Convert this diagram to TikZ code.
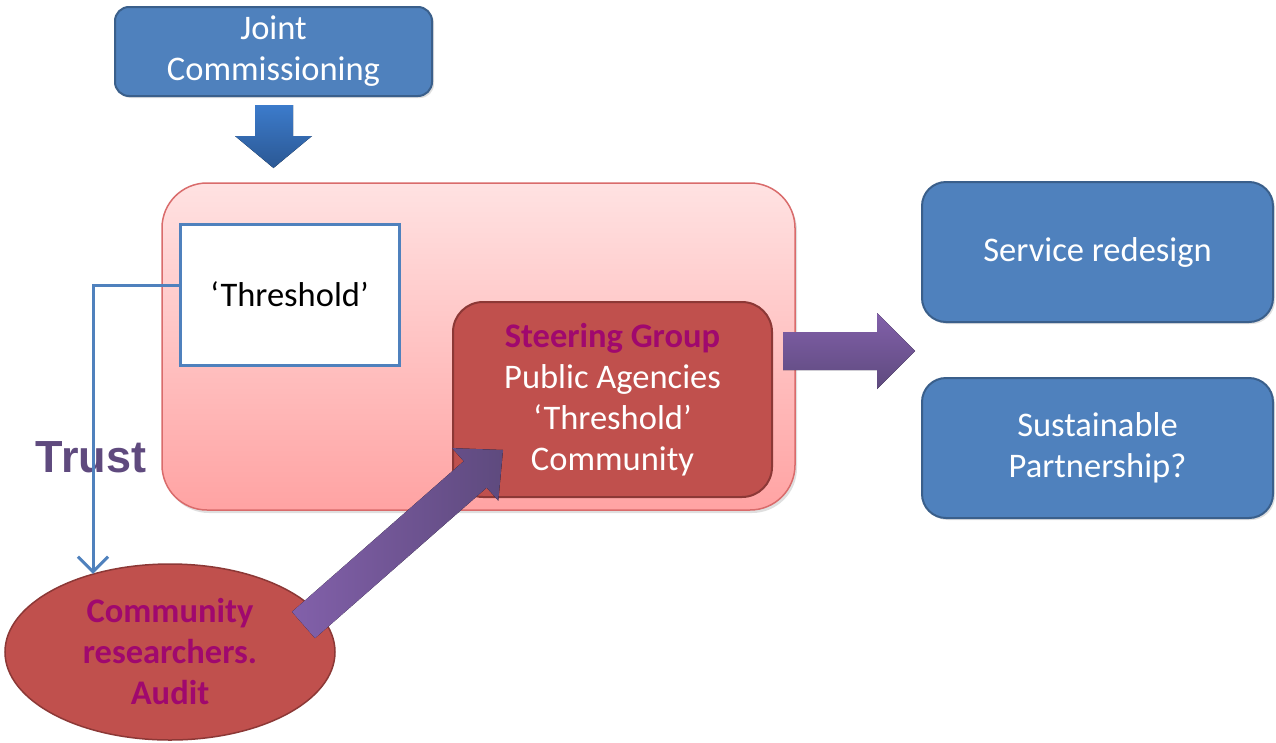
\documentclass[tikz,border=0pt]{standalone}
\usepackage{fontspec}
\setmainfont{Carlito}
\newfontfamily\arialfont{Liberation Sans}
\usetikzlibrary{arrows.meta,shadows,shapes.geometric}
\definecolor{boxblue}{HTML}{4F81BD}
\definecolor{boxblueline}{HTML}{3A5F8B}
\definecolor{pinktop}{HTML}{FFE2E2}
\definecolor{pinkbot}{HTML}{FFA3A3}
\definecolor{pinkline}{HTML}{D96B6B}
\definecolor{redfill}{HTML}{C0504D}
\definecolor{redline}{HTML}{8C3836}
\definecolor{magtext}{HTML}{A0086E}
\definecolor{trustcol}{HTML}{5F4A7E}
\definecolor{purplelight}{HTML}{8260AA}
\definecolor{purpledark}{HTML}{5E4A7E}
\definecolor{arrowbluetop}{HTML}{3C7BCB}
\definecolor{arrowbluebot}{HTML}{2B5894}
\tikzset{
  txt/.style={font=\fontsize{34.5}{41}\selectfont, align=center},
  bluebox/.style={txt, draw=boxblueline, line width=2pt, fill=boxblue, text=white, rounded corners=16pt, inner sep=0pt,
    drop shadow={opacity=0.25, shadow xshift=2pt, shadow yshift=-2pt}},
  pinkframe/.style={draw=pinkline, line width=1.5pt, top color=pinktop, bottom color=pinkbot, rounded corners=45pt, inner sep=0pt,
    drop shadow={opacity=0.25, shadow xshift=2pt, shadow yshift=-3pt}},
  whitebox/.style={txt, draw=boxblue, line width=3pt, fill=white, text=black, inner sep=0pt},
  redbox/.style={txt, draw=redline, line width=2pt, fill=redfill, text=white, rounded corners=30pt, inner sep=0pt},
  redoval/.style={txt, ellipse, draw=redline, line width=1.5pt, fill=redfill, text=magtext, font=\fontsize{34.5}{41}\selectfont\bfseries, inner sep=0pt},
  conn/.style={draw=boxblue, line width=3pt, -{Straight Barb[length=15pt,width=30pt,line width=3pt]}},
  blockpurple/.style={left color=purplelight, right color=purpledark, draw=none},
  blockpurplev/.style={top color=purplelight, bottom color=purpledark, draw=none},
}
\begin{document}
\begin{tikzpicture}[x=1pt,y=-1pt]
\fill[white] (0,0) rectangle (1276,742);
\useasboundingbox (0,0) rectangle (1276,742);

% top box and down arrow
\node[bluebox, minimum width=317pt, minimum height=89pt, rounded corners=14pt] (joint) at (273.5,51.5) {Joint\\Commissioning};
\fill[top color=arrowbluetop, bottom color=arrowbluebot] (255,105) -- (293,105) -- (293,136) -- (312,136) -- (273.5,168) -- (235,136) -- (255,136) -- cycle;

% frame
\node[pinkframe, minimum width=633pt, minimum height=327pt] (frame) at (478.5,346.5) {};

% Threshold box
\node[whitebox, minimum width=219pt, minimum height=141pt] (thr) at (289.5,294.5) {‘Threshold’};

% Steering group
\node[redbox, minimum width=319pt, minimum height=195pt] (steer) at (612.5,399.5)
  {{\color{magtext}\bfseries Steering Group}\\Public Agencies\\‘Threshold’\\Community};

% right boxes
\node[bluebox, minimum width=351pt, minimum height=140pt, rounded corners=24pt] (serv) at (1097.5,252) {Service redesign};
\node[bluebox, minimum width=351pt, minimum height=140pt, rounded corners=24pt] (sust) at (1097.5,448) {Sustainable\\Partnership?};

% ellipse
\node[redoval, minimum width=330pt, minimum height=176pt] (ell) at (170,652) {Community\\researchers.\\Audit};

% Trust label
\node[font=\arialfont\bfseries\fontsize{45}{50}\selectfont, text=trustcol, inner sep=0pt] (trust) at (91,457) {Trust};

% Trust connector
\coordinate (bend) at (93,285);
\draw[conn] (thr.west |- bend) -- (bend) -- (bend |- ell.135);

% right block arrow
\fill[blockpurplev] (783,332) -- (877,332) -- (877,313) -- (915,351) -- (877,389) -- (877,370) -- (783,370) -- cycle;

% diagonal block arrow
\fill[blockpurple] (292,611.8) -- (463.7,461.2) -- (452.1,448.1) -- (503,450) -- (498.3,500.7) -- (486.7,487.6) -- (315,638.2) -- cycle;
\end{tikzpicture}
\end{document}
